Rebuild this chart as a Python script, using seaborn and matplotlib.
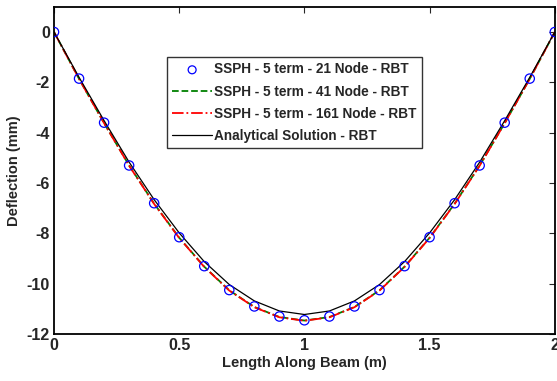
import pandas as pd
import matplotlib.pyplot as plt
import seaborn as sns

sns.set_style('white')
plt.rcParams['font.family'] = ['Liberation Sans', 'DejaVu Sans']
plt.rcParams['font.weight'] = 'bold'
plt.rcParams['axes.unicode_minus'] = False

#data
x = [0.0, 0.1, 0.2, 0.3, 0.4, 0.5, 0.6, 0.7, 0.8, 0.9, 1.0,
     1.1, 1.2, 1.3, 1.4, 1.5, 1.6, 1.7, 1.8, 1.9, 2.0]
sspf_21 = [0, -1.85, -3.6, -5.3, -6.8, -8.15, -9.3, -10.25, -10.9, -11.3, -11.45,
           -11.3, -10.9, -10.25, -9.3, -8.15, -6.8, -5.3, -3.6, -1.85, 0]
sspf_41 = [0, -1.86, -3.62, -5.3, -6.82, -8.17, -9.32, -10.26, -10.92, -11.32, -11.46,
           -11.32, -10.92, -10.26, -9.32, -8.17, -6.82, -5.3, -3.62, -1.86, 0]
sspf_161 = [0, -1.86, -3.62, -5.31, -6.83, -8.18, -9.33, -10.27, -10.93, -11.33, -11.47,
            -11.33, -10.93, -10.27, -9.33, -8.18, -6.83, -5.31, -3.62, -1.86, 0]
analytical = [0, -1.8, -3.52, -5.17, -6.66, -7.98, -9.12, -10.03, -10.68, -11.08, -11.22,
              -11.08, -10.68, -10.03, -9.12, -7.98, -6.66, -5.17, -3.52, -1.8, 0]

df = pd.DataFrame({'x': x, 'n21': sspf_21, 'n41': sspf_41,
                   'n161': sspf_161, 'exact': analytical})

fig = plt.figure(figsize=(5.57, 3.81), dpi=100)
ax = fig.add_axes([0.097, 0.123, 0.899, 0.859])

sns.scatterplot(data=df, x='x', y='n21', ax=ax, marker='o', s=45,
                facecolors='none', edgecolor='blue', linewidth=0.9,
                label='SSPH - 5 term - 21 Node - RBT', zorder=5)
sns.lineplot(data=df, x='x', y='n41', ax=ax, color='green', linestyle='--',
             linewidth=1.3, label='SSPH - 5 term - 41 Node - RBT')
sns.lineplot(data=df, x='x', y='n161', ax=ax, color='red', linestyle='-.',
             linewidth=1.3, label='SSPH - 5 term - 161 Node - RBT')
sns.lineplot(data=df, x='x', y='exact', ax=ax, color='black', linestyle='-',
             linewidth=0.9, label='Analytical Solution - RBT')

#format axes
ax.set_xlim(0, 2)
ax.set_ylim(-12, 1)
ax.set_xticks([0, 0.5, 1, 1.5, 2])
ax.set_xticklabels(['0', '0.5', '1', '1.5', '2'])
ax.set_yticks([-12, -10, -8, -6, -4, -2, 0])
ax.tick_params(direction='in', top=True, right=True, length=4, width=0.8,
               labelsize=11.5, pad=3)
for lab in ax.get_xticklabels() + ax.get_yticklabels():
    lab.set_fontweight('bold')
for sp in ax.spines.values():
    sp.set_linewidth(1.3)
    sp.set_color('black')
ax.set_xlabel('Length Along Beam (m)', fontsize=10.5, fontweight='bold', labelpad=2)
ax.set_ylabel('Deflection (mm)', fontsize=10.5, fontweight='bold', labelpad=4)

leg = ax.legend(loc='upper left', bbox_to_anchor=(0.2255, 0.847),
                prop={'weight': 'bold', 'size': 9.8}, frameon=True,
                fancybox=False, edgecolor='black', borderpad=0.4,
                labelspacing=0.6, handlelength=2.9, handletextpad=0.15,
                borderaxespad=0, markerscale=0.85)
leg.get_frame().set_linewidth(1.0)

plt.savefig('out.png', dpi=100)
